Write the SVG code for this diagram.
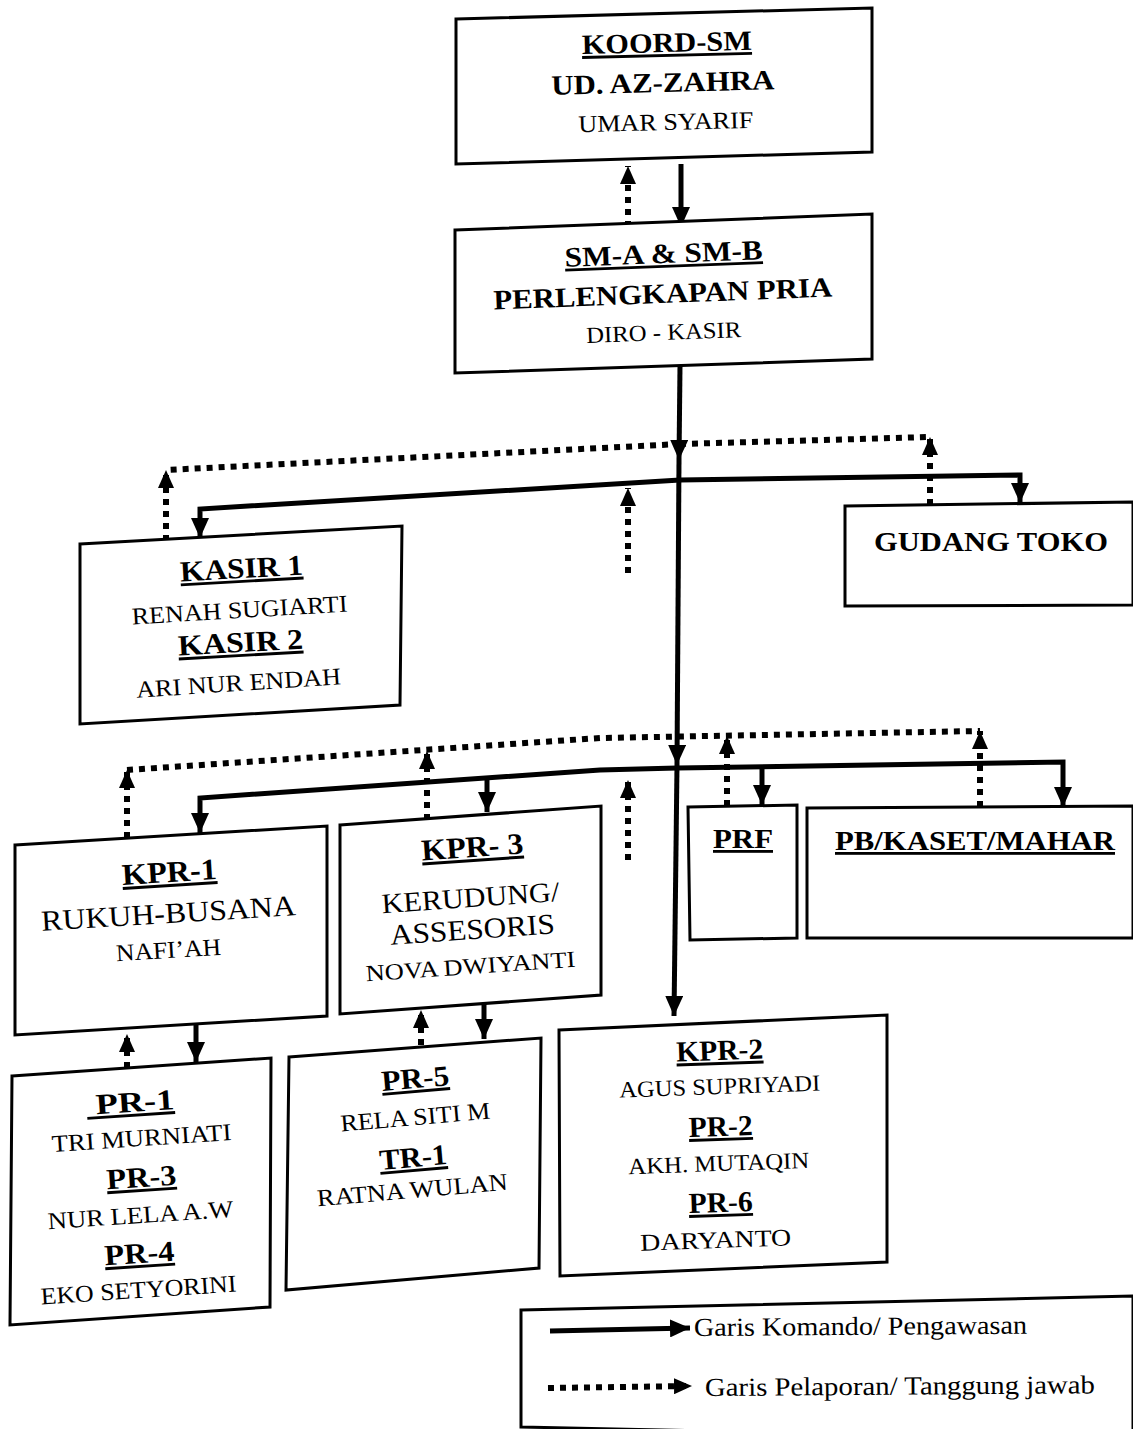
<svg xmlns="http://www.w3.org/2000/svg" width="1133" height="1429" viewBox="0 0 1133 1429">
<style>
.box{fill:#fff;stroke:#000;stroke-width:3;stroke-linejoin:miter}
.t{font-family:"Liberation Serif","Times New Roman",serif;fill:#000;text-anchor:middle}
.b{font-weight:bold}
.u{text-decoration:underline}
.l{text-anchor:start}
.cmd{fill:none;stroke:#000;stroke-width:5}
.rep{fill:none;stroke:#000;stroke-width:6;stroke-dasharray:6 6}
</style>
<defs>
<marker id="ah" markerUnits="userSpaceOnUse" viewBox="0 0 20 18" markerWidth="20" markerHeight="18" refX="20" refY="9" orient="auto"><path d="M0,0 L20,9 L0,18 z" fill="#000"/></marker>
<marker id="ahd" markerUnits="userSpaceOnUse" viewBox="0 0 18 16" markerWidth="18" markerHeight="16" refX="18" refY="8" orient="auto"><path d="M0,0 L18,8 L0,16 z" fill="#000"/></marker>
</defs>
<rect width="1133" height="1429" fill="#fff"/>

<g id="connectors">
<path class="cmd" marker-end="url(#ah)" d="M681,164 L681,227"/>
<path class="cmd" marker-end="url(#ah)" d="M680,366 L679,460"/>
<path class="cmd" marker-end="url(#ah)" d="M679,460 L677,765"/>
<path class="cmd" marker-end="url(#ah)" d="M677,765 L674,1016"/>
<path class="cmd" marker-end="url(#ah)" d="M680,480 L200,509 L200,538"/>
<path class="cmd" marker-end="url(#ah)" d="M680,480 L1020,475 L1020,503"/>
<path class="cmd" marker-end="url(#ah)" d="M677,768 L600,770 L200,798 L200,833"/>
<path class="cmd" marker-end="url(#ah)" d="M487,778 L487,812"/>
<path class="cmd" marker-end="url(#ah)" d="M677,768 L1063,762 L1063,807"/>
<path class="cmd" marker-end="url(#ah)" d="M762,767 L762,805"/>
<path class="cmd" marker-end="url(#ah)" d="M196,1022 L196,1062"/>
<path class="cmd" marker-end="url(#ah)" d="M484,1000 L484,1039"/>

<path class="rep" marker-end="url(#ahd)" d="M628,227 L628,166"/>
<path class="rep" d="M680,444 L166,470"/>
<path class="rep" d="M680,444 L930,437"/>
<path class="rep" marker-end="url(#ahd)" d="M166,541 L166,470"/>
<path class="rep" marker-end="url(#ahd)" d="M930,505 L930,437"/>
<path class="rep" marker-end="url(#ahd)" d="M628,573 L628,488"/>
<path class="rep" d="M127,770 L600,738 L980,731"/>
<path class="rep" marker-end="url(#ahd)" d="M127,838 L127,770"/>
<path class="rep" marker-end="url(#ahd)" d="M427,820 L427,751"/>
<path class="rep" marker-end="url(#ahd)" d="M628,860 L628,780"/>
<path class="rep" marker-end="url(#ahd)" d="M727,806 L727,736"/>
<path class="rep" marker-end="url(#ahd)" d="M980,807 L980,731"/>
<path class="rep" marker-end="url(#ahd)" d="M127,1068 L127,1034"/>
<path class="rep" marker-end="url(#ahd)" d="M421,1045 L421,1010"/>
</g>

<g id="koord-sm">
<polygon class="box" points="456,19 872,8 872,152 456,164"/>
<text class="t b u" x="667" y="52" font-size="28" textLength="170" lengthAdjust="spacingAndGlyphs" transform="rotate(-1.4 667 52)">KOORD-SM</text>
<text class="t b" x="663" y="92" font-size="28" textLength="223" lengthAdjust="spacingAndGlyphs" transform="rotate(-1.4 663 92)">UD. AZ-ZAHRA</text>
<text class="t" x="666" y="130" font-size="24" textLength="175" lengthAdjust="spacingAndGlyphs" transform="rotate(-1.4 666 130)">UMAR SYARIF</text>
</g>

<g id="sm-ab">
<polygon class="box" points="455,230 872,214 872,359 455,373"/>
<text class="t b u" x="664" y="263" font-size="28" textLength="198" lengthAdjust="spacingAndGlyphs" transform="rotate(-2.2 664 263)">SM-A &amp; SM-B</text>
<text class="t b" x="663" y="303" font-size="28" textLength="339" lengthAdjust="spacingAndGlyphs" transform="rotate(-2.2 663 303)">PERLENGKAPAN PRIA</text>
<text class="t" x="664" y="340" font-size="23" textLength="155" lengthAdjust="spacingAndGlyphs" transform="rotate(-2.2 664 340)">DIRO - KASIR</text>
</g>

<g id="kasir">
<polygon class="box" points="80,544 402,526 400,705 80,724"/>
<text class="t b u" x="242" y="578" font-size="29" textLength="123" lengthAdjust="spacingAndGlyphs" transform="rotate(-3.2 242 578)">KASIR 1</text>
<text class="t" x="240" y="618" font-size="24" textLength="216" lengthAdjust="spacingAndGlyphs" transform="rotate(-3.4 240 618)">RENAH SUGIARTI</text>
<text class="t b u" x="241" y="652" font-size="29" textLength="125" lengthAdjust="spacingAndGlyphs" transform="rotate(-3.2 241 652)">KASIR 2</text>
<text class="t" x="239" y="691" font-size="24" textLength="205" lengthAdjust="spacingAndGlyphs" transform="rotate(-3.8 239 691)">ARI NUR ENDAH</text>
</g>

<g id="gudang-toko">
<polygon class="box" points="845,506 1133,502 1133,605 845,606"/>
<text class="t b" x="991" y="551" font-size="28" textLength="234" lengthAdjust="spacingAndGlyphs">GUDANG TOKO</text>
</g>

<g id="kpr-1">
<polygon class="box" points="15,845 327,826 327,1016 15,1035"/>
<text class="t b u" x="170" y="882" font-size="30" textLength="95" lengthAdjust="spacingAndGlyphs" transform="rotate(-3.5 170 882)">KPR-1</text>
<text class="t" x="169" y="923" font-size="29" textLength="255" lengthAdjust="spacingAndGlyphs" transform="rotate(-3.5 169 923)">RUKUH-BUSANA</text>
<text class="t" x="169" y="958" font-size="24" textLength="105" lengthAdjust="spacingAndGlyphs" transform="rotate(-3.5 169 958)">NAFI’AH</text>
</g>

<g id="kpr-3">
<polygon class="box" points="340,825 601,806 601,995 340,1014"/>
<text class="t b u" x="473" y="857" font-size="30" textLength="102" lengthAdjust="spacingAndGlyphs" transform="rotate(-4 473 857)">KPR- 3</text>
<text class="t" x="471" y="907" font-size="28" textLength="178" lengthAdjust="spacingAndGlyphs" transform="rotate(-4 471 907)">KERUDUNG/</text>
<text class="t" x="473" y="939" font-size="29" textLength="165" lengthAdjust="spacingAndGlyphs" transform="rotate(-4 473 939)">ASSESORIS</text>
<text class="t" x="471" y="974" font-size="23" textLength="210" lengthAdjust="spacingAndGlyphs" transform="rotate(-4 471 974)">NOVA DWIYANTI</text>
</g>

<g id="prf">
<polygon class="box" points="688,807 797,805 797,938 690,940"/>
<text class="t b u" x="743" y="848" font-size="28" textLength="60" lengthAdjust="spacingAndGlyphs">PRF</text>
</g>

<g id="pb-kaset-mahar">
<polygon class="box" points="807,808 1133,806 1133,938 807,938"/>
<text class="t b u" x="975" y="850" font-size="28" textLength="280" lengthAdjust="spacingAndGlyphs">PB/KASET/MAHAR</text>
</g>

<g id="pr-1-3-4">
<polygon class="box" points="12,1076 271,1058 270,1307 10,1325"/>
<text class="t b u" x="131" y="1112" font-size="29" textLength="88" lengthAdjust="spacingAndGlyphs" transform="rotate(-3.8 131 1112)">&#160;PR-1</text>
<text class="t" x="142" y="1146" font-size="24" textLength="180" lengthAdjust="spacingAndGlyphs" transform="rotate(-3.8 142 1146)">TRI MURNIATI</text>
<text class="t b u" x="142" y="1187" font-size="29" textLength="70" lengthAdjust="spacingAndGlyphs" transform="rotate(-3.8 142 1187)">PR-3</text>
<text class="t" x="141" y="1223" font-size="24" textLength="186" lengthAdjust="spacingAndGlyphs" transform="rotate(-3.8 141 1223)">NUR LELA A.W</text>
<text class="t b u" x="140" y="1263" font-size="29" textLength="70" lengthAdjust="spacingAndGlyphs" transform="rotate(-3.8 140 1263)">PR-4</text>
<text class="t" x="139" y="1298" font-size="24" textLength="196" lengthAdjust="spacingAndGlyphs" transform="rotate(-3.8 139 1298)">EKO SETYORINI</text>
</g>

<g id="pr-5-tr-1">
<polygon class="box" points="289,1057 541,1038 539,1268 286,1290"/>
<text class="t b u" x="416" y="1088" font-size="29" textLength="68" lengthAdjust="spacingAndGlyphs" transform="rotate(-5 416 1088)">PR-5</text>
<text class="t" x="416" y="1125" font-size="24" textLength="150" lengthAdjust="spacingAndGlyphs" transform="rotate(-5 416 1125)">RELA SITI M</text>
<text class="t b u" x="414" y="1167" font-size="29" textLength="68" lengthAdjust="spacingAndGlyphs" transform="rotate(-5 414 1167)">TR-1</text>
<text class="t" x="413" y="1198" font-size="24" textLength="191" lengthAdjust="spacingAndGlyphs" transform="rotate(-5 413 1198)">RATNA WULAN</text>
</g>

<g id="kpr-2">
<polygon class="box" points="559,1030 887,1015 887,1262 560,1276"/>
<text class="t b u" x="720" y="1060" font-size="29" textLength="87" lengthAdjust="spacingAndGlyphs" transform="rotate(-2 720 1060)">KPR-2</text>
<text class="t" x="720" y="1094" font-size="23" textLength="201" lengthAdjust="spacingAndGlyphs" transform="rotate(-2 720 1094)">AGUS SUPRIYADI</text>
<text class="t b u" x="721" y="1136" font-size="29" textLength="64" lengthAdjust="spacingAndGlyphs" transform="rotate(-2 721 1136)">PR-2</text>
<text class="t" x="719" y="1171" font-size="23" textLength="181" lengthAdjust="spacingAndGlyphs" transform="rotate(-2 719 1171)">AKH. MUTAQIN</text>
<text class="t b u" x="721" y="1212" font-size="29" textLength="64" lengthAdjust="spacingAndGlyphs" transform="rotate(-2 721 1212)">PR-6</text>
<text class="t" x="716" y="1248" font-size="24" textLength="151" lengthAdjust="spacingAndGlyphs" transform="rotate(-2 716 1248)">DARYANTO</text>
</g>

<g id="legend">
<polygon class="box" points="521,1310 1133,1296 1133,1440 521,1427"/>
<path class="cmd" marker-end="url(#ah)" d="M550,1331 L690,1328"/>
<path class="rep" marker-end="url(#ahd)" d="M548,1388 L692,1386"/>
<text class="t l" x="694" y="1336" font-size="26" textLength="333" lengthAdjust="spacingAndGlyphs" transform="rotate(-0.4 694 1336)">Garis Komando/ Pengawasan</text>
<text class="t l" x="705" y="1396" font-size="26" textLength="390" lengthAdjust="spacingAndGlyphs" transform="rotate(-0.4 705 1396)">Garis Pelaporan/ Tanggung jawab</text>
</g>
</svg>
